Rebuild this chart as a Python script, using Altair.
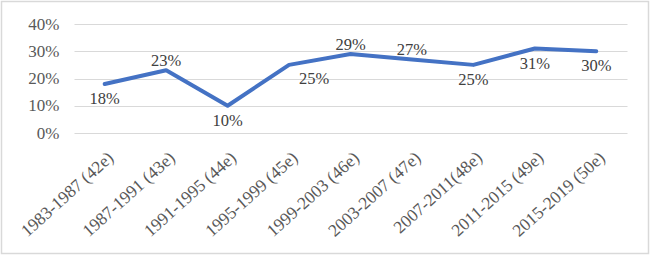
import altair as alt
import pandas as pd

periods = ["1983-1987 (42e)", "1987-1991 (43e)", "1991-1995 (44e)", "1995-1999 (45e)",
           "1999-2003 (46e)", "2003-2007 (47e)", "2007-2011(48e)", "2011-2015 (49e)",
           "2015-2019 (50e)"]
values = [0.18, 0.23, 0.10, 0.25, 0.29, 0.27, 0.25, 0.31, 0.30]

df = pd.DataFrame({"period": periods, "value": values})

FONT = "Liberation Serif"

above = ["1987-1991 (43e)", "1999-2003 (46e)", "2003-2007 (47e)"]
below_right = ["1995-1999 (45e)"]

x = alt.X("period:N", sort=periods, title=None,
          scale=alt.Scale(paddingInner=0, paddingOuter=0),
          axis=alt.Axis(labelAngle=-42, labelAlign="right", labelBaseline="middle",
                        labelFont=FONT, labelFontSize=17.5,
                        labelColor="#595959", ticks=False, domain=False,
                        labelPadding=22, labelOffset=6, grid=False))
y = alt.Y("value:Q", title=None,
          scale=alt.Scale(domain=[0, 0.4]),
          axis=alt.Axis(values=[0, 0.1, 0.2, 0.3, 0.4], format=".0%",
                        labelFont=FONT, labelFontSize=17, labelColor="#595959",
                        ticks=False, domain=False, labelPadding=15,
                        gridColor="#d9d9d9", gridWidth=1.2))

base = alt.Chart(df).encode(x=x, y=y)

line = base.mark_line(color="#4472C4", strokeWidth=4, strokeCap="round", strokeJoin="round")

text_style = dict(font=FONT, fontSize=16.5, color="#404040", baseline="middle", align="center")

lab_above = base.mark_text(dy=-9, **text_style).encode(
    text=alt.Text("value:Q", format=".0%")
).transform_filter(alt.FieldOneOfPredicate(field="period", oneOf=above))

lab_below = base.mark_text(dy=15, **text_style).encode(
    text=alt.Text("value:Q", format=".0%")
).transform_filter(~alt.FieldOneOfPredicate(field="period", oneOf=above + below_right))

lab_br = base.mark_text(dy=14, dx=25, **text_style).encode(
    text=alt.Text("value:Q", format=".0%")
).transform_filter(alt.FieldOneOfPredicate(field="period", oneOf=below_right))

border = alt.Chart(df).mark_rect(fill=None, stroke="#d9d9d9", strokeWidth=1.5, clip=False).encode(
    x=alt.value(-72.5), x2=alt.value(574.5), y=alt.value(-22.5), y2=alt.value(229.5)
).transform_filter(alt.FieldEqualPredicate(field="period", equal=periods[0]))

chart = alt.layer(border, line, lab_above, lab_below, lab_br).properties(
    width=553, height=109,
    autosize=alt.AutoSizeParams(type="none"),
    padding={"left": 74, "top": 24, "right": 26, "bottom": 125},
    background="white",
).configure_view(stroke=None)

chart.save("out.html", embed_options={"renderer": "svg", "actions": False})
